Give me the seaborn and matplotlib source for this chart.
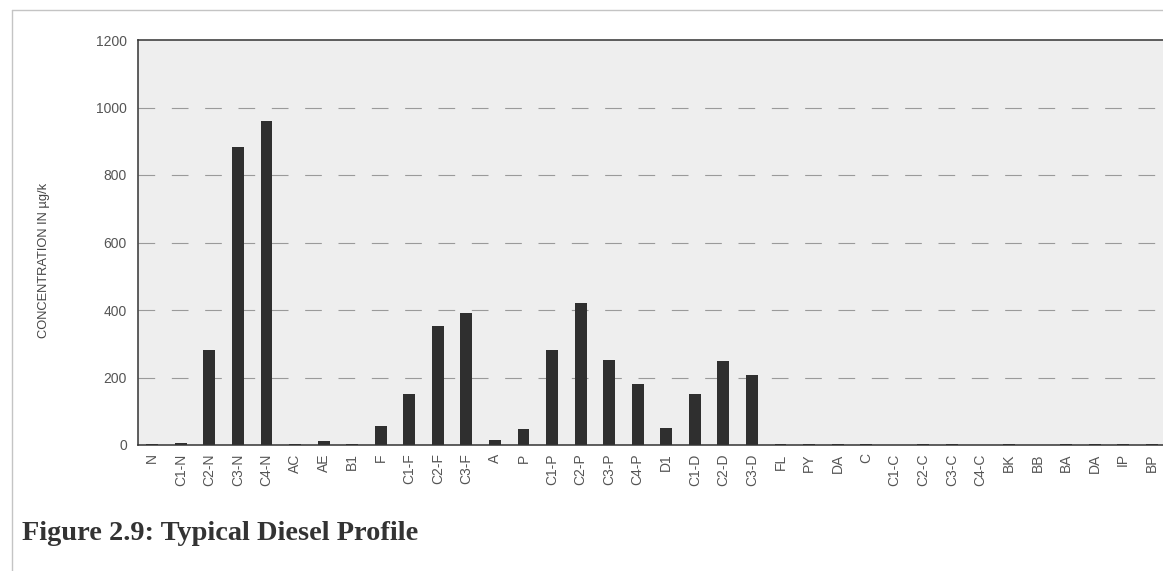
import matplotlib
matplotlib.use("Agg")
import matplotlib.pyplot as plt
from matplotlib.lines import Line2D
import seaborn as sns
import pandas as pd

# ---- data ----
categories = ["N", "C1-N", "C2-N", "C3-N", "C4-N", "AC", "AE", "B1", "F", "C1-F",
              "C2-F", "C3-F", "A", "P", "C1-P", "C2-P", "C3-P", "C4-P", "D1", "C1-D",
              "C2-D", "C3-D", "FL", "PY", "DA", "C", "C1-C", "C2-C", "C3-C", "C4-C",
              "BK", "BB", "BA", "DA", "IP", "BP"]
concentration = [4, 7, 281, 883, 961, 3, 11, 3, 57, 151,
                 352, 391, 14, 46, 281, 422, 251, 182, 51, 151,
                 250, 206, 3, 3, 4, 3, 1, 3, 3, 1,
                 3, 1, 3, 2, 3, 2]
y_ticks = [0, 200, 400, 600, 800, 1000, 1200]
y_label = "CONCENTRATION IN µg/k"
title = "Figure 2.9: Typical Diesel Profile"

df = pd.DataFrame({"pos": list(range(len(categories))), "value": concentration})

sns.set_style("white")
plt.rcParams["font.family"] = ["Liberation Sans", "DejaVu Sans"]

W, H = 1163, 571
fig = plt.figure(figsize=(W / 100, H / 100), dpi=100)
fig.patch.set_facecolor("white")
left, right, top, bottom = 138, 1166, 40, 445
ax = fig.add_axes([left / W, 1 - bottom / H, (right - left) / W, (bottom - top) / H])
ax.set_facecolor("#eeeeee")

sns.barplot(data=df, x="pos", y="value", color="#2f2f2f", saturation=1,
            width=0.42, ax=ax, edgecolor="none")

ax.set_xlim(-0.5, len(categories) - 0.5)
ax.set_ylim(0, 1200)
ax.set_yticks(y_ticks)
ax.set_yticklabels([str(t) for t in y_ticks], color="#555555", fontsize=10)
ax.set_xticks(range(len(categories)))
ax.set_xticklabels(categories, rotation=90, color="#555555", fontsize=10)
ax.tick_params(axis="x", which="major", length=0, pad=6)
ax.set_xticks([i + 0.5 for i in range(-1, len(categories))], minor=True)
ax.tick_params(axis="x", which="minor", length=5, color="#888888", direction="out")
ax.tick_params(axis="y", length=5, color="#888888", direction="out", pad=3)
ax.set_xlabel("")
ax.set_ylabel(y_label, fontsize=9.3, color="#444444")
ax.yaxis.set_label_coords((50 - left) / (right - left), (bottom - 260) / (bottom - top))

for y in y_ticks[1:-1]:
    ax.axhline(y, color="#9a9a9a", linewidth=0.8, linestyle=(0, (15, 15)), zorder=0.5)

for side in ["top", "left", "bottom", "right"]:
    ax.spines[side].set_visible(True)
    ax.spines[side].set_color("#333333")
    ax.spines[side].set_linewidth(1.1)

# page frame from the scanned document
fig.add_artist(Line2D([12 / W, 1], [1 - 10 / H, 1 - 10 / H], color="#c4c4c4", linewidth=1))
fig.add_artist(Line2D([12 / W, 12 / W], [0, 1 - 10 / H], color="#c4c4c4", linewidth=1))

fig.text(22 / W, 1 - 540 / H, title, fontsize=20.4, fontweight="bold",
         family=["Liberation Serif", "DejaVu Serif"], color="#333333", va="baseline", ha="left")

fig.savefig("out.png", dpi=100)
